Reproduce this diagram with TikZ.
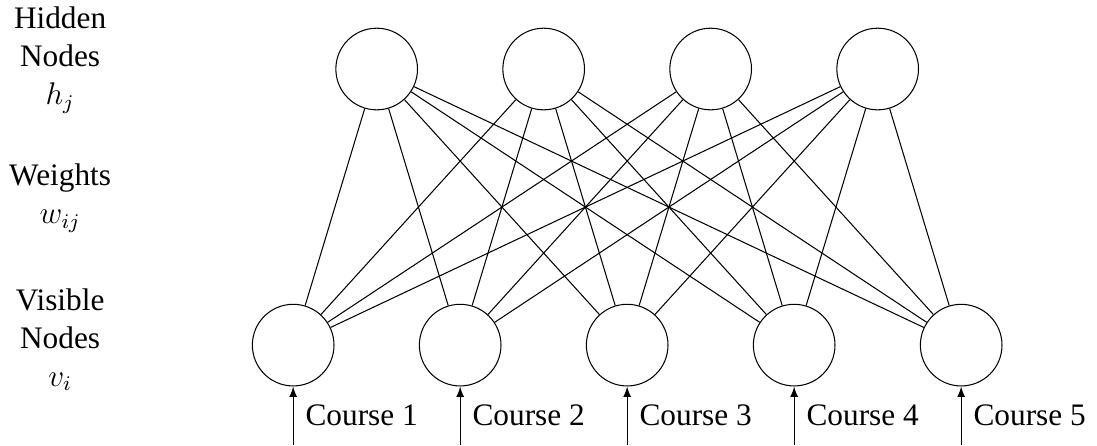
\documentclass[12pt,tikz,border=0pt]{standalone}
\usepackage{amsmath,amssymb}
\usepackage{fontspec}
\setmainfont{Liberation Serif}
\usetikzlibrary{positioning}

\begin{document}
\begin{tikzpicture}[neuron/.style={shape=circle,draw,minimum size=1.1cm,inner sep=0pt},
  layerlabel/.style={align=center,inner sep=0pt}]
\useasboundingbox (-3.95,-1.347) rectangle (10.83,4.65);
% visible layer
\foreach \i in {1,...,5}
  \node[neuron] (v\i) at ({(\i-1)*2.25},0) {};
% hidden layer
\foreach \j in {1,...,4}
  \node[neuron] (h\j) at ({1.125+(\j-1)*2.25},3.72) {};
% weights
\foreach \i in {1,...,5}
  \foreach \j in {1,...,4}
    \draw (v\i) -- (h\j);
% inputs
\foreach \i in {1,...,5} {
  \coordinate (in\i) at ({(\i-1)*2.25},-1.347);
  \draw[-latex] (in\i) -- (v\i);
  \node[anchor=west,inner sep=0pt] (c\i) at ({(\i-1)*2.25+0.16},-0.94) {Course \i};
}
% layer names
\node[layerlabel] (hlab) at (-3.14,3.84) {Hidden\\Nodes\\$h_j$};
\node[layerlabel] (wlab) at (-3.14,1.98) {Weights\\$w_{ij}$};
\node[layerlabel] (vlab) at (-3.14,0.07) {Visible\\Nodes\\$v_i$};
\end{tikzpicture}
\end{document}
